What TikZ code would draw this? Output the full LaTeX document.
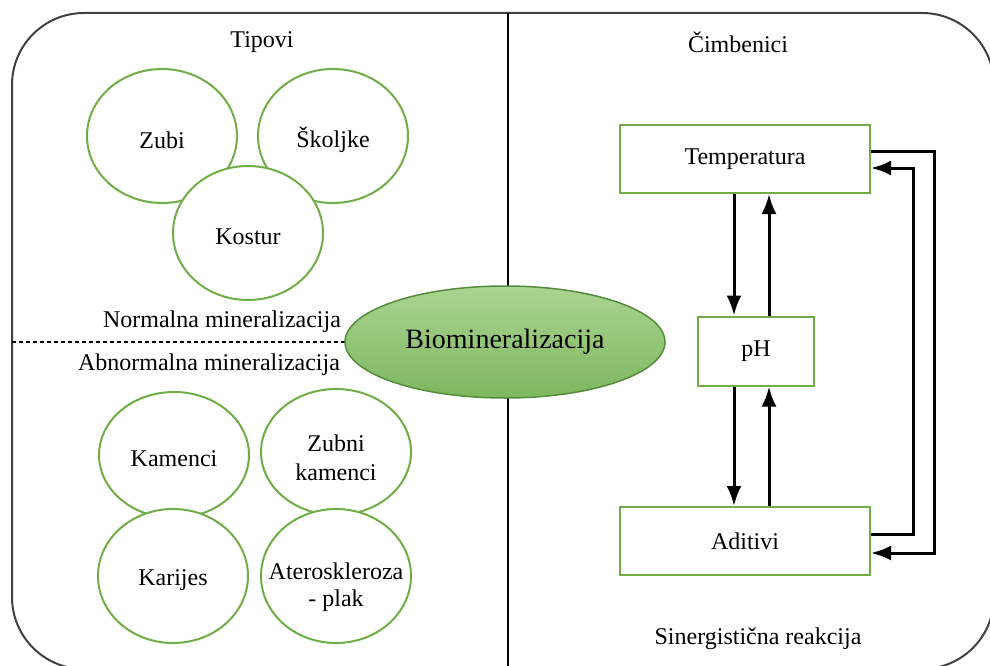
\documentclass[tikz,border=0pt]{standalone}
\usepackage{fontspec}
\setmainfont{Liberation Serif}
\usepackage{tikz}
\usetikzlibrary{shapes,arrows.meta,positioning}
\definecolor{zelena}{RGB}{112,173,71}
\definecolor{tamnozelena}{RGB}{84,140,60}
\definecolor{svijetla}{RGB}{170,212,145}
\definecolor{srednja}{RGB}{125,183,95}
\tikzstyle{krug} = [ellipse, draw=zelena, line width=2pt, fill=white,
    minimum width=150pt, minimum height=134pt, inner sep=0pt]
\tikzstyle{upis} = [align=center, inner sep=0pt, yshift=-4pt]
\tikzstyle{blok} = [rectangle, draw=zelena, line width=2pt, fill=white,
    minimum height=68pt]
\tikzstyle{strelica} = [-{Latex[length=20pt,width=15pt]}, black, line width=3pt]
\tikzstyle{natpis} = [inner sep=0pt]

\begin{document}
\begin{tikzpicture}[x=1pt,y=-1pt,font=\fontsize{24}{29}\selectfont]
  \useasboundingbox (0,0) rectangle (990,666);
  \clip (0,0) rectangle (990,666);
  % Frame and dividers
  \draw[line width=2pt, black!75, rounded corners=72pt] (12,13) rectangle (994,669);
  \draw[line width=1.3pt] (508,13) -- (508,670);
  \draw[dash pattern=on 4pt off 3pt, line width=1.5pt] (12,342) -- (350,342);
  % Headings
  \node[natpis] (tipovi) at (262,42) {Tipovi};
  \node[natpis] (cimb) at (738,42) {Čimbenici};
  \node[natpis] (normal) at (222,322) {Normalna mineralizacija};
  \node[natpis] (abnormal) at (209,365) {Abnormalna mineralizacija};
  \node[natpis] (siner) at (758,639) {Sinergistična reakcija};
  % Place circles
  \node[krug, label={[upis]center:Zubi}] (zubi) at (162,136) {};
  \node[krug, label={[upis]center:Školjke}] (skoljke) at (333,136) {};
  \node[krug, label={[upis]center:Kostur}] (kostur) at (248,233) {};
  \node[krug, minimum height=126pt, label={[upis]center:Kamenci}] (kamenci) at (174,455) {};
  \node[krug, minimum height=126pt, label={[upis, yshift=-2pt]center:Zubni\\kamenci}] (zkamenci) at (336,452) {};
  \node[krug, label={[upis]center:Karijes}] (karijes) at (173,576) {};
  \node[krug, label={[upis, yshift=-7pt, font=\fontsize{24}{27}\selectfont]center:Ateroskleroza\\- plak}] (atero) at (336,576) {};
  % Central ellipse
  \node[ellipse, draw=tamnozelena, line width=1.5pt, top color=svijetla,
    bottom color=srednja, minimum width=320pt, minimum height=112pt,
    font=\fontsize{28}{32}\selectfont] (bio) at (505,342) {Biomineralizacija};
  % Place boxes
  \node[blok, minimum width=250pt] (temp) at (745,159) {Temperatura};
  \node[blok, minimum width=116pt, minimum height=69pt] (ph) at (756,351) {pH};
  \node[blok, minimum width=250pt] (adit) at (745,541) {Aditivi};
  \coordinate (xa) at (734,0);
  \coordinate (xb) at (769,0);
  % Draw edges
  \draw[strelica] (temp.south -| xa) -- (ph.north -| xa);
  \draw[strelica] (ph.north -| xb) -- (temp.south -| xb);
  \draw[strelica] (ph.south -| xa) -- (adit.north -| xa);
  \draw[strelica] (adit.north -| xb) -- (ph.south -| xb);
  \draw[strelica] ([yshift=8pt]temp.east) -- ++(63,0) |- ([yshift=-12pt]adit.east);
  \draw[strelica] ([yshift=7pt]adit.east) -- ++(42,0) |- ([yshift=-9pt]temp.east);
\end{tikzpicture}
\end{document}
